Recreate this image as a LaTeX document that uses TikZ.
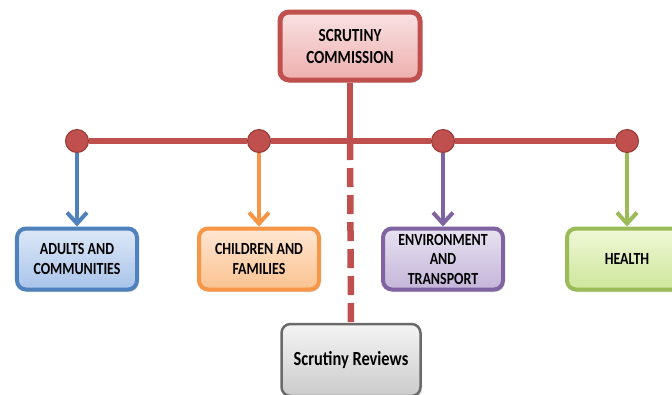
\documentclass[tikz,border=0pt]{standalone}
\usepackage{fontspec}
\setmainfont{Carlito}[FakeStretch=0.82]
\usetikzlibrary{arrows.meta,shadows}

\definecolor{redline}{HTML}{C0504D}
\definecolor{reddark}{HTML}{953735}
\definecolor{redtop}{HTML}{F9E2E2}
\definecolor{redbot}{HTML}{EDAFAE}
\definecolor{blueline}{HTML}{4F81BD}
\definecolor{bluetop}{HTML}{DDE8F7}
\definecolor{bluebot}{HTML}{A8C3EA}
\definecolor{orangeline}{HTML}{F79646}
\definecolor{orangetop}{HTML}{FEE6D2}
\definecolor{orangebot}{HTML}{FBC28F}
\definecolor{purpleline}{HTML}{8064A2}
\definecolor{purpletop}{HTML}{E8E2F0}
\definecolor{purplebot}{HTML}{C4B5DA}
\definecolor{greenline}{HTML}{9BBB59}
\definecolor{greentop}{HTML}{F0F8D8}
\definecolor{greenbot}{HTML}{CDE69A}
\definecolor{greyline}{HTML}{6A6A6A}
\definecolor{greytop}{HTML}{F4F4F4}
\definecolor{greybot}{HTML}{CBCBCB}

\tikzset{
  box/.style={draw=#1line, top color=#1top, bottom color=#1bot,
    line width=4bp, rounded corners=9bp, minimum width=120bp,
    minimum height=61bp, inner sep=2bp, align=center,
    font=\bfseries\fontsize{17bp}{19.5bp}\selectfont,
    drop shadow={opacity=0.3, shadow xshift=1.5bp, shadow yshift=-2.5bp}},
  dot/.style={circle, fill=redline, draw=reddark, line width=1bp,
    minimum size=23bp, inner sep=0pt},
  redbar/.style={draw=redline, line width=6.5bp},
}

\begin{document}
\begin{tikzpicture}[x=1bp,y=-1bp]
    \clip (0,0) rectangle (672,394);
    % 顶部框与下方的评审框
    \node[box=red, line width=5bp, minimum width=140bp, minimum height=68bp,
      font=\bfseries\fontsize{18.5bp}{22bp}\selectfont]
      (sc) at (350,46) {SCRUTINY\\COMMISSION};
    \node[box=grey, line width=2.5bp, minimum width=139bp, minimum height=72bp,
      font=\bfseries\fontsize{20bp}{22bp}\selectfont]
      (rev) at (351,360) {Scrutiny Reviews};
    \coordinate (jn) at (350,141);
    \draw[redbar] (sc.south) -- (jn);                          % 实线竖干
    \draw[redbar, dash pattern=on 19bp off 8bp] (jn) -- (rev.north); % 虚线
    % 四个分支：圆点、箭头、方框
    \foreach \x/\nm/\c/\t in {77/ac/blue/{ADULTS AND\\COMMUNITIES},
        259/cf/orange/{CHILDREN AND\\FAMILIES},
        443/et/purple/{ENVIRONMENT\\AND\\TRANSPORT},
        627/he/green/{HEALTH}} {
      \node[box=\c] (\nm) at (\x,259) {\t};
      \node[dot] (d\nm) at (\x,141) {};
      \draw[draw=\c line, line width=4bp,
        -{Straight Barb[length=11bp, width=20bp]}] (d\nm) -- (\nm.north);
    }
    \draw[redbar] (dac) -- (dcf);
    \draw[redbar] (dcf) -- (det);
    \draw[redbar] (det) -- (dhe);
    \end{tikzpicture}
\end{document}
